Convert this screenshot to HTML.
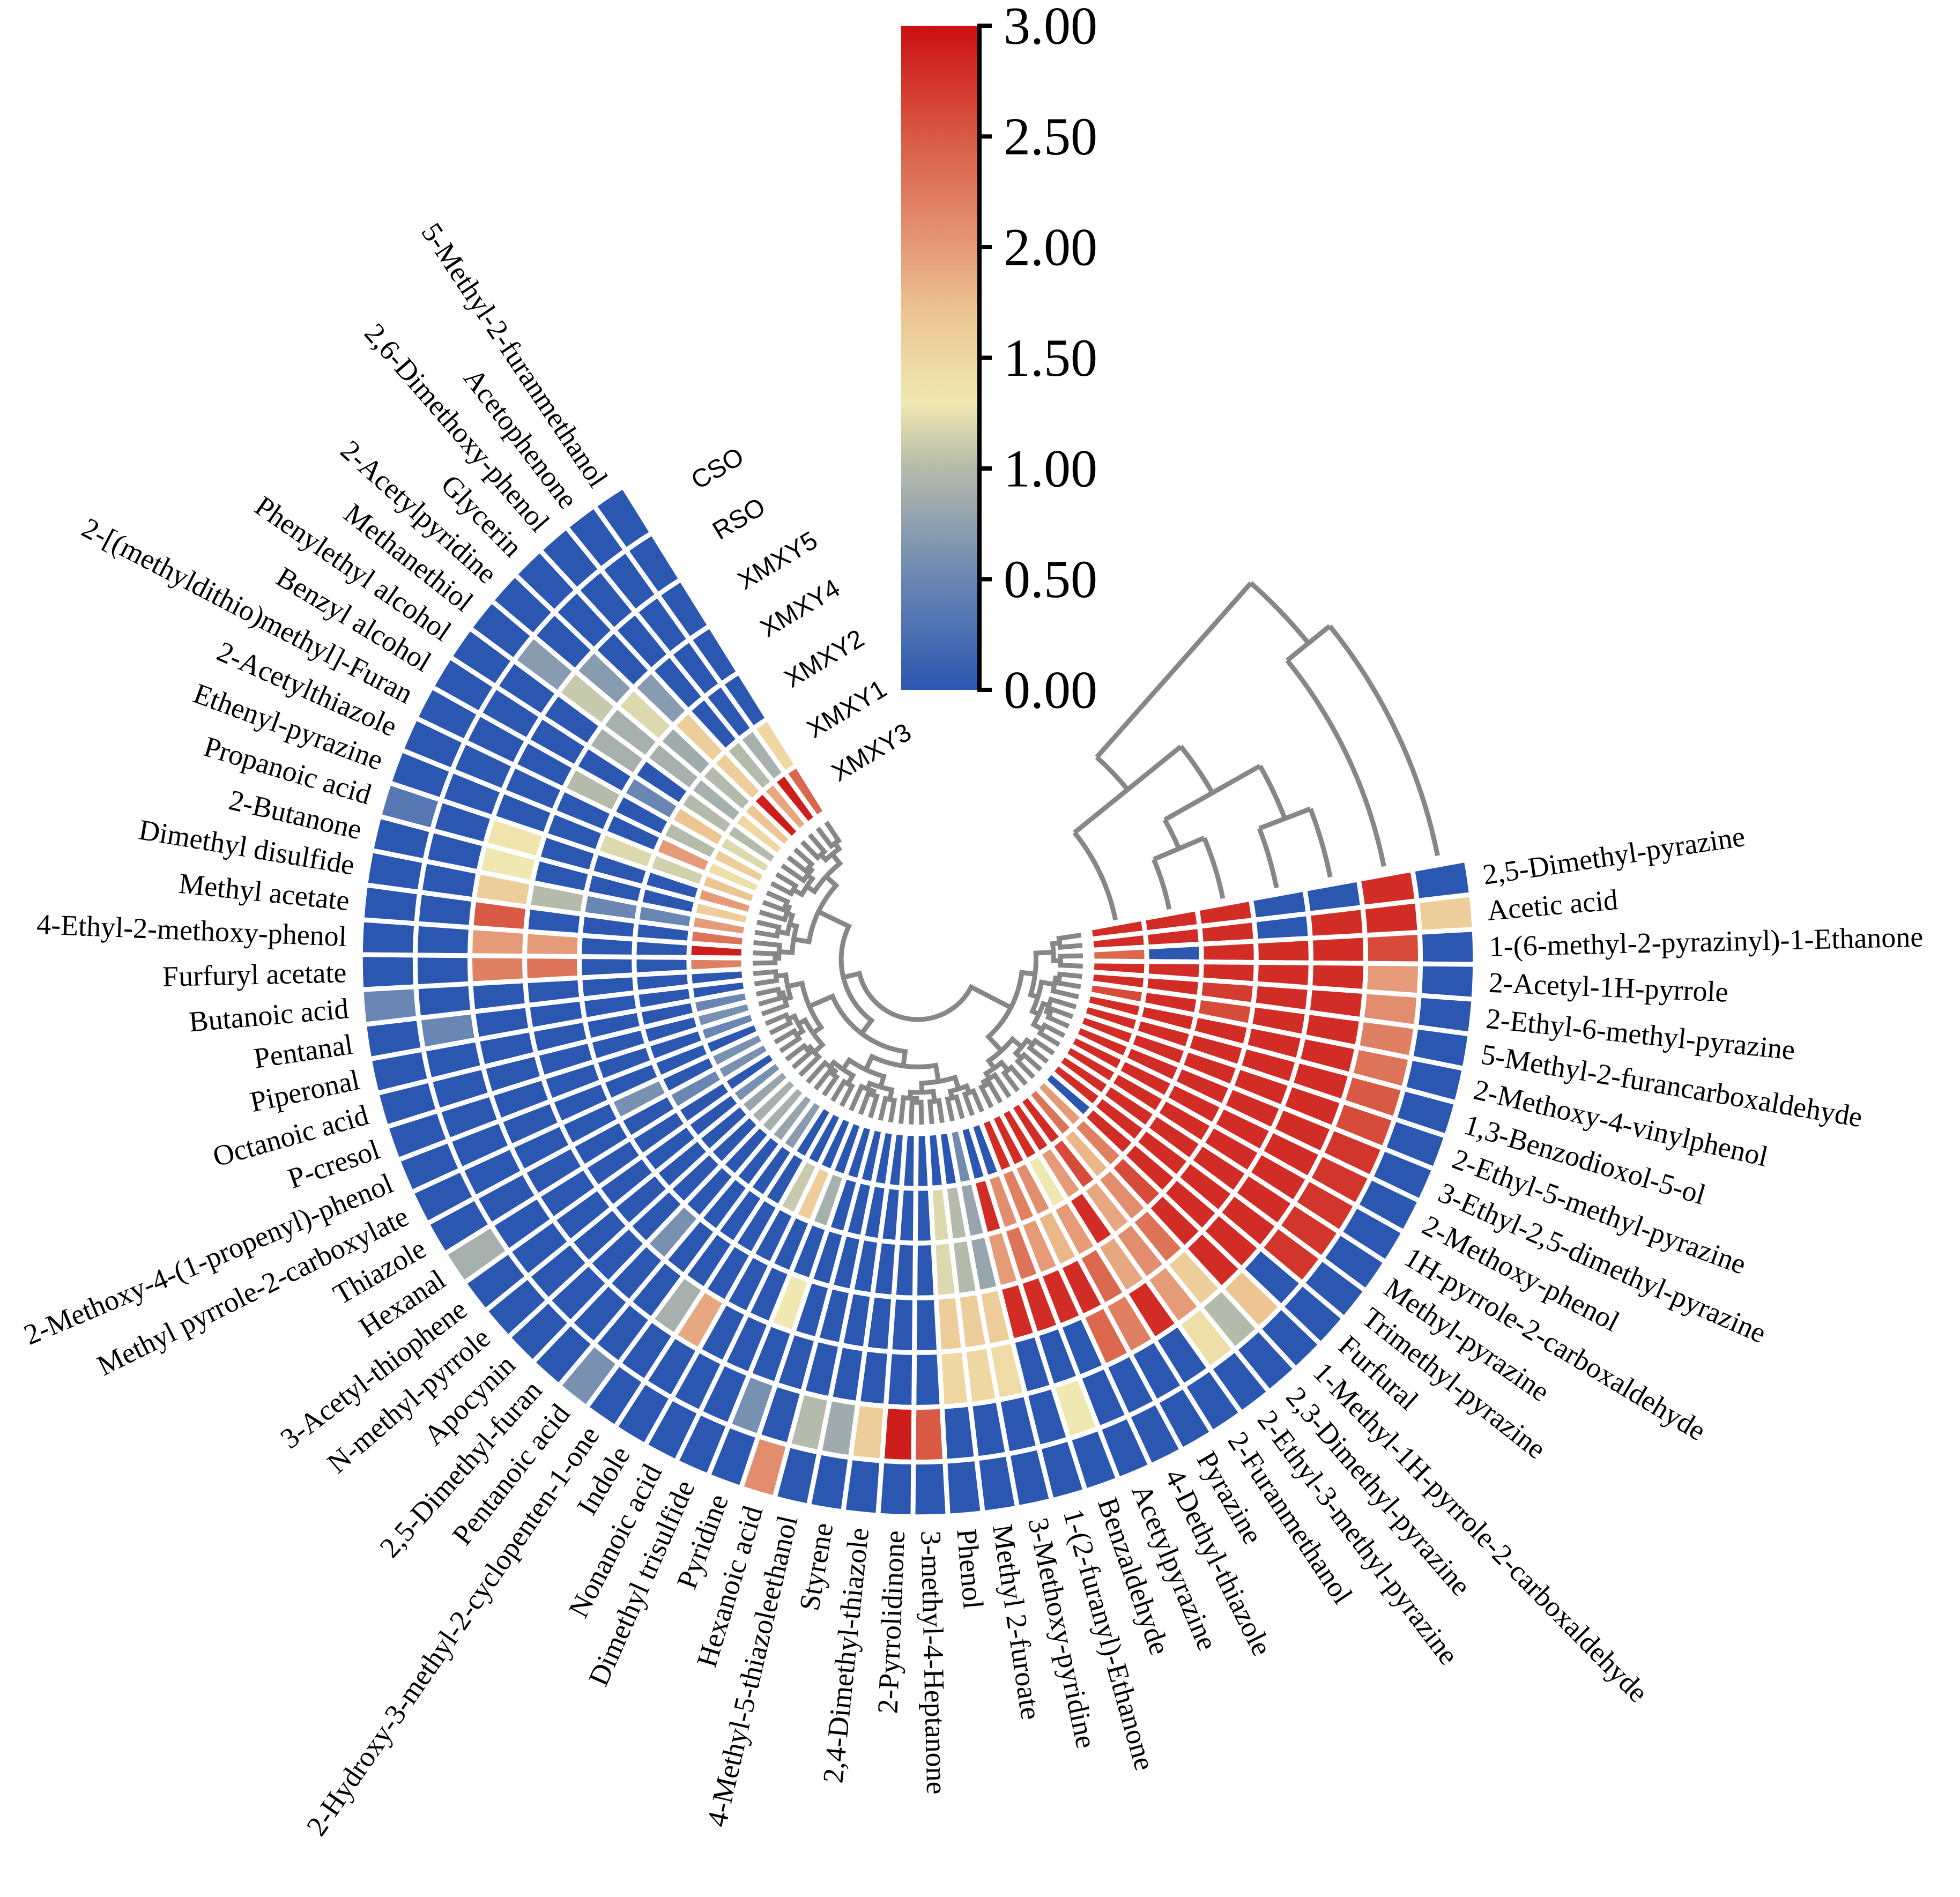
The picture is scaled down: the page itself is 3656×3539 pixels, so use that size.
<!DOCTYPE html>
<html><head><meta charset="utf-8"><title>Circular heatmap</title>
<style>html,body{margin:0;padding:0;background:#fff}svg{display:block}</style></head>
<body>
<svg id="chart" xmlns="http://www.w3.org/2000/svg" width="3656" height="3539" viewBox="0 0 3656 3539">
<rect x="0" y="0" width="3656" height="3539" fill="#ffffff"/>
<defs>
<linearGradient id="cbgrad" x1="0" y1="1" x2="0" y2="0">
<stop offset="0" stop-color="#2b57b1"/><stop offset="0.1667" stop-color="#6a86b2"/><stop offset="0.3333" stop-color="#b5bbab"/><stop offset="0.4333" stop-color="#efe8b0"/><stop offset="0.5667" stop-color="#ecc592"/><stop offset="0.6667" stop-color="#e59a78"/><stop offset="0.8333" stop-color="#d85a44"/><stop offset="1" stop-color="#cc0f12"/>
</linearGradient>
</defs>
<g id="cells"></g>
<g id="rowdendro"></g>
<g id="coldendro"></g>
<g id="rowlabels"></g>
<g id="samplelabels"></g>
<g id="colorbar">
<rect x="1681" y="48" width="146" height="1239" fill="url(#cbgrad)"/>
<line x1="1827" y1="44" x2="1827" y2="1291" stroke="#000" stroke-width="8"/>
</g>
</svg>
<script>
// ---- data ----
const compounds = ["2,5-Dimethyl-pyrazine","Acetic acid","1-(6-methyl-2-pyrazinyl)-1-Ethanone","2-Acetyl-1H-pyrrole","2-Ethyl-6-methyl-pyrazine","5-Methyl-2-furancarboxaldehyde","2-Methoxy-4-vinylphenol","1,3-Benzodioxol-5-ol","2-Ethyl-5-methyl-pyrazine","3-Ethyl-2,5-dimethyl-pyrazine","2-Methoxy-phenol","1H-pyrrole-2-carboxaldehyde","Methyl-pyrazine","Trimethyl-pyrazine","Furfural","1-Methyl-1H-pyrrole-2-carboxaldehyde","2,3-Dimethyl-pyrazine","2-Ethyl-3-methyl-pyrazine","2-Furanmethanol","Pyrazine","4-Dethyl-thiazole","Acetylpyrazine","Benzaldehyde","1-(2-furanyl)-Ethanone","3-Methoxy-pyridine","Methyl 2-furoate","Phenol","3-methyl-4-Heptanone","2-Pyrrolidinone","2,4-Dimethyl-thiazole","Styrene","4-Methyl-5-thiazoleethanol","Hexanoic acid","Pyridine","Dimethyl trisulfide","Nonanoic acid","Indole","2-Hydroxy-3-methyl-2-cyclopenten-1-one","Pentanoic acid","2,5-Dimethyl-furan","Apocynin","N-methyl-pyrrole","3-Acetyl-thiophene","Hexanal","Thiazole","Methyl pyrrole-2-carboxylate","2-Methoxy-4-(1-propenyl)-phenol","P-cresol","Octanoic acid","Piperonal","Pentanal","Butanoic acid","Furfuryl acetate","4-Ethyl-2-methoxy-phenol","Methyl acetate","Dimethyl disulfide","2-Butanone","Propanoic acid","Ethenyl-pyrazine","2-Acetylthiazole","2-[(methyldithio)methyl]-Furan","Benzyl alcohol","Phenylethyl alcohol","Methanethiol","2-Acetylpyridine","Glycerin","2,6-Dimethoxy-phenol","Acetophenone","5-Methyl-2-furanmethanol"];
const samples = ["XMXY3","XMXY1","XMXY2","XMXY4","XMXY5","RSO","CSO"];
const xmxy3 = [2.8,2.8,2.4,2.8,2.8,2.6,2.8,2.8,2.8,2.8,2.8,2.8,2.8,2.8,0,2.0,2.3,2.8,2.8,2.8,2.8,2.8,0,0,0.55,0,0,0,0,0,0,0,0,0,0,0,0,0.7,0.8,0.9,0.9,0.8,0.6,0,0.6,0.6,0,0.5,0.6,0.5,0,0,2.2,2.9,2.3,2.0,1.6,2.0,1.7,1.4,1.6,1.2,1.0,1.5,1.7,2.9,1.9,2.9,2.4];
const xmxy1 = [2.8,2.8,0,2.8,2.8,2.8,2.8,2.8,2.8,2.8,2.8,2.8,2.8,2.8,2.8,2.2,1.8,2.6,2.0,1.3,2.1,2.2,2.1,2.8,0.8,1.0,1.2,0,0,0,0,0,0,0.9,1.6,1.1,0,0,0,0,0,0,0,0,0.5,0,0,0,0,0,0,0,0,0,0,0.5,0,0,1.15,2.0,1.0,1.7,1.0,0.9,1.0,1.6,1.0,0.9,1.5];
const xmxy2 = [2.8,2.8,2.8,2.8,2.7,2.6,2.8,2.8,2.8,2.8,2.8,2.8,2.8,2.8,2.8,2.6,2.1,1.9,2.8,2.0,1.8,2.0,2.3,2.0,0.8,1.0,1.2,0,0,0,0,0,0,0,0,0,0,0,0,0,0,0,0,0,0,0.6,0,0,0,0,0,0,0,0,0,0.5,0,0,1.2,0,0,0.5,0,0.9,0.85,1.6,0,0,0];
const xmxy4 = [0,0,2.8,2.8,2.8,2.8,2.8,2.8,2.8,2.8,2.8,2.8,2.8,2.8,2.8,2.8,2.3,2.1,1.9,2.4,2.8,2.8,2.8,2.8,1.6,1.6,1.6,0,0,0,0,0,0,1.3,0,0,0,0,0,0.6,0,0,0,0,0,0,0,0,0,0,0,0,2.3,2.0,0,1.0,0,0,0,0,1.0,0,0.9,0.9,1.2,0.7,0,0,0];
const xmxy5 = [0,2.8,2.8,2.8,2.8,2.8,2.8,2.8,2.8,2.8,2.8,2.8,2.8,2.8,2.8,2.8,1.6,2.0,2.8,2.2,2.4,0,0,0,1.45,1.5,1.5,0,0,0,0,0,0,0,0,0,1.9,0.9,0,0,0,0,0,0,0,0,0,0,0,0,0,0,2.2,2.0,2.5,1.6,1.3,1.35,0,0,0,0,0,1.1,0.7,0,0,0,0];
const rso = [2.8,2.8,2.6,2.0,2.1,2.2,2.3,2.5,2.6,2.75,2.75,2.75,2.75,2.75,0,1.7,1.0,1.4,0,0,0,0,1.3,0,0,0,0,2.5,2.9,1.6,0.85,1.0,0,0.6,0,0,0,0,0,0,0,0,0,0,0,0,0,0,0,0,0.5,0,0,0,0,0,0,0,0,0,0,0,0,0.7,0,0,0,0,0];
const cso = [0,1.6,0,0,0,0,0,0,0,0,0,0,0,0,0,0,0,0,0,0,0,0,0,0,0,0,0,0,0,0,0,0,2.1,0,0,0,0,0,0.6,0,0,0,0,0.9,0,0,0,0,0,0,0,0.5,0,0,0,0,0,0.35,0,0,0,0,0,0,0,0,0,0,0];
const tickValues = [0,0.5,1,1.5,2,2.5,3];
const tickLabels = ["0.00","0.50","1.00","1.50","2.00","2.50","3.00"];
const stopValues = [0,0.5,1.0,1.3,1.7,2.0,2.5,3.0];
const stopColors = ["#2b57b1","#6a86b2","#b5bbab","#efe8b0","#ecc592","#e59a78","#d85a44","#cc0f12"];
// ---- geometry ----
const SVGNS = "http://www.w3.org/2000/svg";
const CX = 1712, CY = 1790, R0 = 325, RW = 102.1, A0 = -10.3, STEP = 3.6;
const series = [xmxy3, xmxy1, xmxy2, xmxy4, xmxy5, rso, cso];
function pt(r, a){ const t = a*Math.PI/180; return [CX + r*Math.cos(t), CY + r*Math.sin(t)]; }
function f(v){ return v.toFixed(2); }
function angleOf(i){ return A0 + STEP*i; }
function radiusOf(j){ return R0 + RW*j; }
function hex(c){ return [parseInt(c.slice(1,3),16),parseInt(c.slice(3,5),16),parseInt(c.slice(5,7),16)]; }
function colorOf(v){
  v = Math.max(0, Math.min(3, v));
  for (let k=1;k<stopValues.length;k++){
    if (v <= stopValues[k]){
      const t = (v - stopValues[k-1])/(stopValues[k]-stopValues[k-1]);
      const a = hex(stopColors[k-1]), b = hex(stopColors[k]);
      return "rgb("+a.map((x,i)=>Math.round(x+(b[i]-x)*t)).join(",")+")";
    }
  }
  return stopColors[stopColors.length-1];
}
function sector(r1, r2, a1, a2){
  const p1=pt(r1,a1), p2=pt(r2,a1), p3=pt(r2,a2), p4=pt(r1,a2);
  return "M"+f(p1[0])+","+f(p1[1])+"L"+f(p2[0])+","+f(p2[1])+"A"+r2+","+r2+" 0 0 1 "+f(p3[0])+","+f(p3[1])+"L"+f(p4[0])+","+f(p4[1])+"A"+r1+","+r1+" 0 0 0 "+f(p1[0])+","+f(p1[1])+"Z";
}
// ---- cells ----
const gCells = document.getElementById("cells");
for (let j=0;j<series.length;j++){
  for (let i=0;i<compounds.length;i++){
    const p = document.createElementNS(SVGNS,"path");
    p.setAttribute("d", sector(radiusOf(j), radiusOf(j+1), angleOf(i), angleOf(i+1)));
    p.setAttribute("fill", colorOf(series[j][i]));
    p.setAttribute("stroke", "#ffffff");
    p.setAttribute("stroke-width", "9");
    
    
    gCells.appendChild(p);
  }
}
// ---- row labels ----
const gLab = document.getElementById("rowlabels");
for (let i=0;i<compounds.length;i++){
  const a = angleOf(i+0.5);
  const p = pt(1066, a);
  const t = document.createElementNS(SVGNS,"text");
  const left = (a > 90 && a < 270);
  t.setAttribute("x", f(p[0])); t.setAttribute("y", f(p[1]));
  t.setAttribute("transform", "rotate("+f(left ? a+180 : a)+" "+f(p[0])+" "+f(p[1])+")");
  t.setAttribute("text-anchor", left ? "end" : "start");
  t.setAttribute("dominant-baseline", "central");
  t.setAttribute("font-family", "'Liberation Serif', serif");
  t.setAttribute("font-size", "54");
  t.setAttribute("fill", "#000");
  t.textContent = compounds[i];
  
  
  gLab.appendChild(t);
}
// ---- sample labels ----
const gS = document.getElementById("samplelabels");
const sampleLabelStarts = [[1556,1446],[1510,1365],[1468,1271],[1423,1177],[1381,1088],[1334,995],[1294,901]];
for (let j=0;j<samples.length;j++){
  const x = sampleLabelStarts[j][0], y = sampleLabelStarts[j][1];
  const t = document.createElementNS(SVGNS,"text");
  t.setAttribute("x", f(x)); t.setAttribute("y", f(y));
  t.setAttribute("transform", "rotate(-31 "+f(x)+" "+f(y)+")");
  t.setAttribute("dominant-baseline", "central");
  t.setAttribute("font-family", "'Liberation Sans', sans-serif");
  t.setAttribute("font-size", "48");
  t.textContent = samples[j];
  
  
  gS.appendChild(t);
}
// ---- row dendrogram ----
const gD = document.getElementById("rowdendro");
const LEAF_R = 308, ROOT_R = 112;
const splitFracs = [0.42,0.55,0.33,0.6,0.48];
function build(lo, hi, depth){
  const n = hi-lo+1;
  if (n === 1) return {a: angleOf(lo+0.5), r: LEAF_R};
  let mid;
  if (lo===0 && hi===compounds.length-1) mid = 20;
  else if (lo===21 && hi===compounds.length-1) mid = 51;
  else mid = lo + Math.max(0, Math.min(n-2, Math.round(n*splitFracs[(lo+depth)%5]) - 1));
  const c1 = build(lo, mid, depth+1), c2 = build(mid+1, hi, depth+1);
  const r = ROOT_R + (LEAF_R-10-ROOT_R)*(1-Math.sqrt(n/compounds.length));
  const node = {a:(c1.a+c2.a)/2, r:r};
  const pa = pt(r, c1.a), pb = pt(r, c2.a);
  const q1 = pt(c1.r, c1.a), q2 = pt(c2.r, c2.a);
  const d = "M"+f(q1[0])+","+f(q1[1])+"L"+f(pa[0])+","+f(pa[1])+"A"+f(r)+","+f(r)+" 0 "+((c2.a-c1.a)>180?1:0)+" 1 "+f(pb[0])+","+f(pb[1])+"L"+f(q2[0])+","+f(q2[1]);
  const p = document.createElementNS(SVGNS,"path");
  p.setAttribute("d", d); p.setAttribute("fill","none"); p.setAttribute("stroke","#878787"); p.setAttribute("stroke-width","9");
  
  
  gD.appendChild(p);
  return node;
}
build(0, compounds.length-1, 0);
// ---- sample dendrogram ----
const gC = document.getElementById("coldendro");
const joinAngles = [-23, -21, -29.5, -39, -39, -48.5];
const joinPairs = [[1,2],[3,4],[7,8],[0,9],[5,6],[10,11]];
const cnodes = [];
for (let j=0;j<samples.length;j++) cnodes.push({r: radiusOf(j+0.5), a: A0-1});
for (let k=0;k<joinPairs.length;k++){
  const A = joinAngles[k];
  const c1 = cnodes[joinPairs[k][0]], c2 = cnodes[joinPairs[k][1]];
  let d = "";
  [c1,c2].forEach(c=>{
    const s = pt(c.r, c.a), e = pt(c.r, A);
    d += "M"+f(s[0])+","+f(s[1])+"A"+f(c.r)+","+f(c.r)+" 0 0 0 "+f(e[0])+","+f(e[1]);
  });
  const e1 = pt(c1.r, A), e2 = pt(c2.r, A);
  d += "M"+f(e1[0])+","+f(e1[1])+"L"+f(e2[0])+","+f(e2[1]);
  const p = document.createElementNS(SVGNS,"path");
  p.setAttribute("d", d); p.setAttribute("fill","none"); p.setAttribute("stroke","#878787"); p.setAttribute("stroke-width","9");
  
  
  gC.appendChild(p);
  cnodes.push({r:(c1.r+c2.r)/2, a:A});
}
// ---- colorbar ticks ----
const gB = document.getElementById("colorbar");
const CB_TOP = 48, CB_BOT = 1287;
function cbY(v){ return CB_BOT - (CB_BOT-CB_TOP)*v/3; }
for (let k=0;k<tickValues.length;k++){
  const y = cbY(tickValues[k]);
  const l = document.createElementNS(SVGNS,"line");
  l.setAttribute("x1","1827"); l.setAttribute("x2","1850"); l.setAttribute("y1",f(y)); l.setAttribute("y2",f(y));
  l.setAttribute("stroke","#000"); l.setAttribute("stroke-width","8");
  
  
  gB.appendChild(l);
  const t = document.createElementNS(SVGNS,"text");
  t.setAttribute("x","1872"); t.setAttribute("y",f(y)); t.setAttribute("dominant-baseline","central");
  t.setAttribute("font-family","'Liberation Serif', serif"); t.setAttribute("font-size","100");
  t.textContent = tickLabels[k];
  
  
  gB.appendChild(t);
}
</script>
</body></html>
